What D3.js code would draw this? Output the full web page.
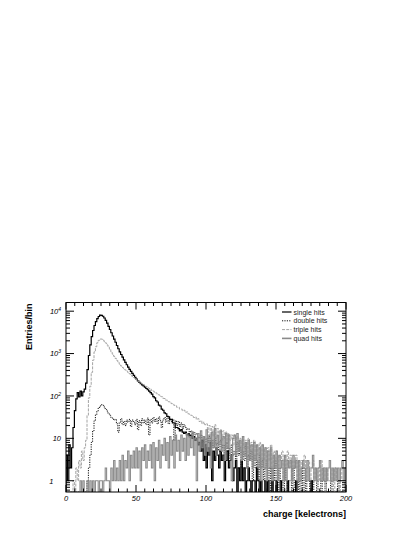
<!DOCTYPE html>
<html>
<head>
<meta charset="utf-8">
<script src="https://cdn.jsdelivr.net/npm/d3@7"></script>
<style>
  body { margin: 0; background: #fff; }
  svg { display: block; }
  text { font-family: "Liberation Sans", Arial, sans-serif; }
</style>
</head>
<body>
<script>
// bin contents, one bin per kelectron (0..200)
var singleHits = [
  4, 1, 7, 2, 6,
  18, 45, 85, 120, 95, 130, 100, 125, 145, 200,
  420, 900, 1600, 2500, 3500, 4600, 5700, 6700, 7500, 8100,
  8000, 7600, 6900, 6100, 5200, 4400, 3700, 3100, 2600, 2200,
  1850, 1550, 1300, 1100, 950,
  820, 710, 620, 545, 480, 425, 380, 340, 305, 275,
  250, 228, 210, 195, 182, 172, 162, 150, 140, 130,
  120, 111, 96, 90, 77, 72, 61, 58, 49, 46,
  40, 38, 33, 32, 28, 28, 23, 23, 18, 18,
  17, 15, 16, 14, 13, 14, 12, 13, 11, 12,
  10, 11, 9, 10, 7, 8,
  5, 9, 3, 7, 2, 6, 4, 8, 1, 5, 3, 6, 4, 2, 5, 3, 4, 1, 3, 5, 2, 3, 4, 1, 2, 3, 0, 2, 1, 3,
  1, 2, 0, 1, 2, 1, 0, 1, 1, 0, 2, 1, 0, 1, 0, 0, 1, 0, 1, 0, 0, 1, 0, 0, 1,
  0, 0, 1, 0, 0, 0, 0, 1, 0, 0, 0, 0, 0, 1, 0, 0, 0, 0, 0, 0, 0, 0, 0, 0, 1,
  0, 0, 0, 0, 0, 0, 0, 0, 0, 0, 0, 0, 0, 0, 0, 0, 0, 0, 0, 0, 0, 0, 0, 0
];

var doubleHits = [
  0, 0, 0, 0, 0, 0, 0, 0, 0, 0, 0, 0, 0, 0, 0,
  1, 2, 4, 8, 15, 26, 36, 44, 52, 58,
  62, 60, 55, 48, 44, 38, 35, 31, 30, 27,
  28, 22, 14, 24, 29, 21, 25, 20, 27, 24,
  28, 19, 27, 25, 21, 28, 16, 26, 20, 29,
  23, 27, 21, 30, 12, 28, 23, 31, 25, 29,
  22, 32, 26, 18, 27, 31, 24, 30, 22, 29,
  25, 28, 9, 26, 20, 25, 19, 23, 17, 21,
  18, 16, 17, 14, 15, 13, 14, 12, 13, 11,
  10, 12, 8, 11, 7,
  10, 8, 11, 7, 9, 6, 10, 7, 8, 5, 9, 6, 7, 4, 8, 5, 6, 3, 7, 4,
  5, 3, 8, 4, 6, 2, 5, 3, 7, 2, 4, 3, 5, 1, 4, 2, 3, 1, 4, 2,
  3, 1, 2, 3, 1, 2, 0, 2, 1, 3, 1, 0, 2, 1, 1, 0, 2, 1, 0, 1,
  1, 0, 2, 0, 1, 1, 0, 1, 0, 2, 0, 1, 0, 0, 1, 0, 1, 0, 0, 1,
  0, 0, 1, 0, 0, 1, 0, 0, 0, 1, 0, 0, 0, 0, 1, 0, 0, 0, 0, 0
];

var tripleHits = [
  0, 0, 0, 0, 0,
  1, 0, 2, 1, 3, 2, 5, 3, 6, 9,
  35, 90, 170, 360, 700, 1100, 1450, 1800, 2050, 2200,
  2200, 2100, 1950, 1780, 1600, 1420, 1250, 1100, 970, 860,
  770, 690, 620, 560, 510, 470, 440, 410, 385, 360,
  335, 310, 290, 272, 255, 240, 226, 214, 204, 194,
  185, 176, 166, 160, 150, 144, 134, 130, 121, 118,
  109, 106, 98, 96, 88, 87, 80, 79, 73, 72,
  66, 65, 60, 59, 54, 54, 49, 49, 45, 46,
  41, 42, 38, 37, 35, 34, 31, 32, 28, 29,
  25, 26, 22, 24, 21,
  22, 14, 20, 12, 19, 11, 21, 10, 17, 13, 16, 9, 15, 10, 14, 8, 13, 9, 12, 7,
  12, 6, 11, 7, 10, 5, 11, 6, 9, 4, 10, 5, 8, 4, 9, 3, 7, 4, 8, 3,
  7, 3, 6, 2, 6, 3, 7, 2, 5, 3, 5, 2, 4, 3, 5, 1, 4, 2, 5, 2,
  4, 1, 3, 2, 4, 1, 3, 1, 3, 2, 4, 1, 2, 3, 1, 2, 3, 1, 2, 1,
  2, 1, 3, 1, 2, 0, 2, 1, 1, 2, 1, 0, 2, 1, 1, 0, 2, 1, 1, 0
];

var quadHits = [
  0, 0, 0, 0, 0, 0, 0, 0, 0, 0,
  1, 0, 1, 0, 0, 1, 0, 1, 0, 1,
  0, 1, 1, 0, 1, 1, 0, 1, 2, 1,
  1, 0, 2, 1, 3, 1, 2, 1, 3, 1,
  4, 1, 3, 2, 5, 1, 4, 2, 5, 2,
  6, 2, 5, 1, 6, 3, 7, 2, 5, 3,
  7, 2, 8, 1, 6, 3, 9, 2, 7, 4,
  10, 3, 8, 2, 11, 4, 9, 2, 12, 5,
  9, 3, 12, 5, 10, 3, 13, 4, 11, 6,
  14, 4, 10, 1, 13, 5, 15, 6, 11, 4,
  16, 5, 12, 2, 14, 6, 17, 4, 12, 7,
  15, 5, 11, 3, 13, 6, 12, 4, 1, 10,
  12, 4, 13, 5, 9, 3, 11, 4, 8, 2,
  9, 3, 7, 2, 8, 3, 7, 2, 6, 1,
  7, 2, 6, 1, 5, 2, 6, 1, 4, 2,
  5, 1, 4, 2, 3, 1, 4, 1, 3, 2,
  3, 1, 4, 2, 3, 1, 3, 1, 2, 3,
  2, 1, 3, 1, 2, 2, 4, 1, 2, 1,
  2, 3, 1, 2, 1, 2, 1, 2, 3, 1,
  2, 1, 2, 1, 2, 1, 2, 3, 1, 2
];

var seriesNames = ["single hits", "double hits", "triple hits", "quad hits"];
var xTickValues = [0, 50, 100, 150, 200];
var yTickValues = [1, 10, 100, 1000, 10000];

(function(window){
    'use strict'

    var W = 415, H = 537;
    var frame = {left: 66, right: 346, top: 302.5, bottom: 492};
    var binWidth = 1;

    var styles = [
        {stroke: '#000', width: 1.2, dash: null},
        {stroke: '#111', width: 1, dash: '1.2,1.2'},
        {stroke: '#a4a4a4', width: 1, dash: '3,1.2'},
        {stroke: '#8a8a8a', width: 1.1, dash: null}
    ];

    var x = d3.scaleLinear().domain([0, 200]).range([frame.left, frame.right]);
    var y = d3.scaleLog().domain([0.542, 16030]).range([frame.bottom, frame.top]);
    var yFloor = y.domain()[0];

    var svg = d3.select('body').append('svg')
        .attr('width', W)
        .attr('height', H);

    svg.append('defs').append('clipPath')
        .attr('id', 'frame-clip')
      .append('rect')
        .attr('x', frame.left)
        .attr('y', frame.top)
        .attr('width', frame.right - frame.left)
        .attr('height', frame.bottom - frame.top);

    // histogram outlines, drawn as steps
    function stepPoints(counts) {
        var pts = [[0, yFloor]];
        counts.forEach(function(c, i) {
            var v = c > yFloor ? c : yFloor;
            pts.push([i * binWidth, v]);
            pts.push([(i + 1) * binWidth, v]);
        });
        pts.push([counts.length * binWidth, yFloor]);
        return pts;
    }

    var line = d3.line()
        .x(function(d) { return x(d[0]); })
        .y(function(d) { return y(d[1]); });

    var plot = svg.append('g').attr('clip-path', 'url(#frame-clip)');
    [singleHits, doubleHits, tripleHits, quadHits].forEach(function(counts, i) {
        plot.append('path')
            .attr('d', line(stepPoints(counts)))
            .attr('fill', 'none')
            .attr('stroke', styles[i].stroke)
            .attr('stroke-width', styles[i].width)
            .attr('stroke-dasharray', styles[i].dash);
    });

    // frame and ticks
    var axes = svg.append('g').attr('stroke', '#000').attr('stroke-width', 1);
    axes.append('rect')
        .attr('x', frame.left)
        .attr('y', frame.top)
        .attr('width', frame.right - frame.left)
        .attr('height', frame.bottom - frame.top)
        .attr('fill', 'none');

    var xMinor = d3.range(0, 200.001, 6.25);
    xMinor.forEach(function(v) {
        var major = xTickValues.indexOf(v) >= 0;
        var len = major ? 7 : 3.5;
        axes.append('line').attr('x1', x(v)).attr('x2', x(v))
            .attr('y1', frame.bottom).attr('y2', frame.bottom - len);
        axes.append('line').attr('x1', x(v)).attr('x2', x(v))
            .attr('y1', frame.top).attr('y2', frame.top + len);
    });

    var yMinor = [];
    [0.1, 1, 10, 100, 1000, 10000].forEach(function(d) {
        for (var k = 1; k <= 9; k++) {
            var v = k * d;
            if (v >= y.domain()[0] && v <= y.domain()[1]) yMinor.push({v: v, major: k === 1});
        }
    });
    yMinor.forEach(function(t) {
        var len = t.major ? 8 : 4;
        axes.append('line').attr('x1', frame.left).attr('x2', frame.left + len)
            .attr('y1', y(t.v)).attr('y2', y(t.v));
        axes.append('line').attr('x1', frame.right).attr('x2', frame.right - len)
            .attr('y1', y(t.v)).attr('y2', y(t.v));
    });

    // tick labels
    svg.append('g').selectAll('text')
        .data(xTickValues)
        .enter().append('text')
        .attr('x', function(d) { return x(d); })
        .attr('y', 501)
        .attr('text-anchor', 'middle')
        .attr('font-size', 7.5)
        .attr('font-style', 'italic')
        .text(function(d) { return d; });

    var yl = svg.append('g').selectAll('text')
        .data(yTickValues)
        .enter().append('text')
        .attr('x', function(d) { return d === 1 ? 53.5 : 61; })
        .attr('y', function(d) { return y(d) + 2.8; })
        .attr('text-anchor', 'end')
        .attr('font-size', 7.5)
        .attr('font-style', 'italic');
    yl.each(function(d) {
        var t = d3.select(this);
        var e = Math.round(Math.log10(d));
        if (e < 2) {
            t.text(d);
        } else {
            t.append('tspan').text('10');
            t.append('tspan').attr('dy', -3).attr('font-size', 5).text(e);
        }
    });

    // axis titles
    svg.append('text')
        .attr('x', frame.right)
        .attr('y', 517)
        .attr('text-anchor', 'end')
        .attr('font-size', 9)
        .attr('font-weight', 'bold')
        .text('charge [kelectrons]');

    svg.append('text')
        .attr('transform', 'translate(32,' + (frame.top + 1) + ') rotate(-90)')
        .attr('text-anchor', 'end')
        .attr('font-size', 9)
        .attr('font-weight', 'bold')
        .text('Entries/bin');

    // legend
    var legend = svg.append('g');
    seriesNames.forEach(function(name, i) {
        var ly = 312 + i * 8.8;
        legend.append('line')
            .attr('x1', 282).attr('x2', 291.5)
            .attr('y1', ly).attr('y2', ly)
            .attr('stroke', styles[i].stroke)
            .attr('stroke-width', i === 3 ? 1.6 : styles[i].width)
            .attr('stroke-dasharray', styles[i].dash);
        legend.append('text')
            .attr('x', 293.5)
            .attr('y', ly + 2.5)
            .attr('font-size', 7)
            .attr('fill', '#222')
            .text(name);
    });

})(window);
</script>
</body>
</html>
